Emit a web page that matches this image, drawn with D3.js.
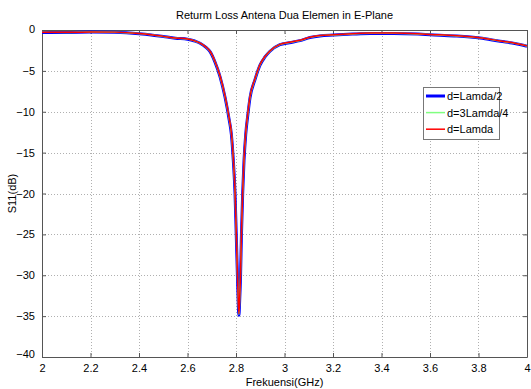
<!DOCTYPE html>
<html>
<head>
<meta charset="utf-8">
<script src="https://cdn.jsdelivr.net/npm/d3@7"></script>
<style>
  html, body { margin: 0; padding: 0; background: #fff; }
  svg { display: block; }
  text { font-family: "Liberation Sans Narrow", "Liberation Sans", Arial, sans-serif; fill: #000; }
</style>
</head>
<body>
<svg id="chart" width="531" height="389"></svg>
<script>
// ---- data ----
const freqGHz = [2.00, 2.10, 2.20, 2.30, 2.40, 2.45, 2.50, 2.55, 2.60, 2.63, 2.652, 2.675, 2.693, 2.713, 2.734, 2.7546, 2.772, 2.781, 2.789, 2.796, 2.801, 2.806, 2.809, 2.812, 2.815, 2.8186, 2.8225, 2.8275, 2.833, 2.840, 2.8495, 2.8577, 2.878, 2.899, 2.9196, 2.940, 2.981, 3.02, 3.064, 3.105, 3.146, 3.204, 3.28, 3.353, 3.45, 3.55, 3.60, 3.70, 3.806, 3.889, 3.95, 4.00];
const s11Half =     [-0.30, -0.30, -0.25, -0.28, -0.45, -0.60, -0.80, -1.00, -1.12, -1.35, -1.62, -2.10, -2.65, -3.90, -5.70, -8.20, -11.00, -12.80, -16.0, -20.0, -25.0, -30.2, -33.2, -34.9, -33.2, -30.2, -25.0, -20.0, -16.0, -12.80, -10.20, -8.30, -6.10, -4.30, -3.30, -2.60, -1.80, -1.55, -1.30, -0.92, -0.72, -0.62, -0.50, -0.42, -0.42, -0.50, -0.58, -0.72, -0.98, -1.38, -1.65, -1.98];
const s113Quarter = [-0.28, -0.30, -0.24, -0.27, -0.44, -0.59, -0.79, -0.99, -1.11, -1.34, -1.61, -2.08, -2.62, -3.86, -5.65, -8.12, -10.90, -12.70, -15.9, -19.9, -24.9, -30.0, -33.0, -34.8, -33.0, -30.0, -24.9, -19.9, -15.9, -12.70, -10.10, -8.22, -6.05, -4.26, -3.27, -2.58, -1.78, -1.53, -1.28, -0.90, -0.70, -0.60, -0.48, -0.40, -0.40, -0.48, -0.56, -0.70, -0.96, -1.36, -1.63, -1.96];
const s11Lamda =    [-0.27, -0.29, -0.23, -0.26, -0.43, -0.58, -0.78, -0.98, -1.10, -1.33, -1.60, -2.06, -2.60, -3.82, -5.60, -8.05, -10.80, -12.60, -15.8, -19.8, -24.8, -29.9, -32.9, -34.7, -32.9, -29.9, -24.8, -19.8, -15.8, -12.60, -10.00, -8.15, -6.00, -4.22, -3.24, -2.56, -1.76, -1.51, -1.26, -0.88, -0.68, -0.58, -0.46, -0.38, -0.38, -0.46, -0.54, -0.68, -0.94, -1.34, -1.61, -1.94];
const seriesNames = ["d=Lamda/2", "d=3Lamda/4", "d=Lamda"];
const seriesColors = ["#0000ff", "#80ff80", "#ff0000"];
const seriesWidths = [3, 1.5, 1.5];
const xTicks = [2, 2.2, 2.4, 2.6, 2.8, 3, 3.2, 3.4, 3.6, 3.8, 4];
const yTicks = [0, -5, -10, -15, -20, -25, -30, -35, -40];
const titleText = "Returm Loss Antena Dua Elemen in E-Plane";
const xLabelText = "Frekuensi(GHz)";
const yLabelText = "S11(dB)";

// ---- layout ----
const svg = d3.select("#chart");
const L = 42, R = 527, T = 30, B = 357;
const x = d3.scaleLinear().domain([2, 4]).range([L, R]);
const y = d3.scaleLinear().domain([-40, 0]).range([B, T]);

// grid (dotted)
const grid = svg.append("g");
grid.selectAll("line.vg").data(xTicks.slice(1, -1)).enter().append("line")
  .attr("x1", d => Math.round(x(d)) + 0.5).attr("x2", d => Math.round(x(d)) + 0.5)
  .attr("y1", T).attr("y2", B)
  .attr("stroke", "#b0b0b0").attr("stroke-width", 1).attr("stroke-dasharray", "1,2");
grid.selectAll("line.hg").data(yTicks.slice(1, -1)).enter().append("line")
  .attr("y1", d => Math.round(y(d)) + 0.5).attr("y2", d => Math.round(y(d)) + 0.5)
  .attr("x1", L).attr("x2", R)
  .attr("stroke", "#b0b0b0").attr("stroke-width", 1).attr("stroke-dasharray", "1,2");

// axes with inner ticks on all sides
const fmtX = d => d3.format("")(+d.toFixed(1));
const axB = svg.append("g").attr("transform", `translate(0,${B})`)
  .call(d3.axisBottom(x).tickValues(xTicks).tickSizeInner(-4).tickSizeOuter(0).tickPadding(7).tickFormat(fmtX));
const axT = svg.append("g").attr("transform", `translate(0,${T})`)
  .call(d3.axisTop(x).tickValues(xTicks).tickSizeInner(-4).tickSizeOuter(0).tickFormat(""));
const axLft = svg.append("g").attr("transform", `translate(${L},0)`)
  .call(d3.axisLeft(y).tickValues(yTicks).tickSizeInner(-4).tickSizeOuter(0).tickPadding(7).tickFormat(d3.format("")));
const axRt = svg.append("g").attr("transform", `translate(${R},0)`)
  .call(d3.axisRight(y).tickValues(yTicks).tickSizeInner(-4).tickSizeOuter(0).tickFormat(""));
[axB, axT, axLft, axRt].forEach(g => {
  g.select(".domain").attr("stroke", "#555");
  g.selectAll(".tick line").attr("stroke", "#555");
  g.selectAll("text").attr("font-size", 11).attr("font-family", "Liberation Sans Narrow, Liberation Sans, Arial, sans-serif");
});
axB.selectAll(".tick text").attr("dy", "0.71em");
axLft.selectAll(".tick text").filter(d => d === -40).attr("dy", "0.05em");
axLft.selectAll(".tick text").filter(d => d === 0).attr("dy", "0.2em");

// lines
const line = d3.line().x(d => x(d[0])).y(d => y(d[1])).curve(d3.curveMonotoneX);
const allSeries = [s11Half, s113Quarter, s11Lamda];
allSeries.forEach((vals, i) => {
  svg.append("path")
    .datum(freqGHz.map((f, k) => [f, vals[k]]))
    .attr("d", line)
    .attr("fill", "none")
    .attr("stroke", seriesColors[i])
    .attr("stroke-width", seriesWidths[i])
    .attr("stroke-linejoin", "round");
});

// title & labels
svg.append("text").attr("x", (L + R) / 2).attr("y", 19).attr("text-anchor", "middle")
  .attr("font-size", 11).text(titleText);
svg.append("text").attr("x", (L + R) / 2).attr("y", 386).attr("text-anchor", "middle")
  .attr("font-size", 11).text(xLabelText);
svg.append("text").attr("transform", `translate(16,${(T + B) / 2}) rotate(-90)`).attr("text-anchor", "middle")
  .attr("font-size", 11).text(yLabelText);

// legend
const lg = svg.append("g").attr("transform", "translate(423,87)");
lg.append("rect").attr("x", 0.5).attr("y", 0.5).attr("width", 76).attr("height", 52)
  .attr("fill", "#fff").attr("stroke", "#777").attr("stroke-width", 1);
seriesNames.forEach((name, i) => {
  const yy = 9 + i * 16.6;
  lg.append("line").attr("x1", 3).attr("x2", 22).attr("y1", yy).attr("y2", yy)
    .attr("stroke", seriesColors[i]).attr("stroke-width", seriesWidths[i]);
  lg.append("text").attr("x", 24).attr("y", yy + 4).attr("font-size", 11).text(name);
});
</script>
</body>
</html>
